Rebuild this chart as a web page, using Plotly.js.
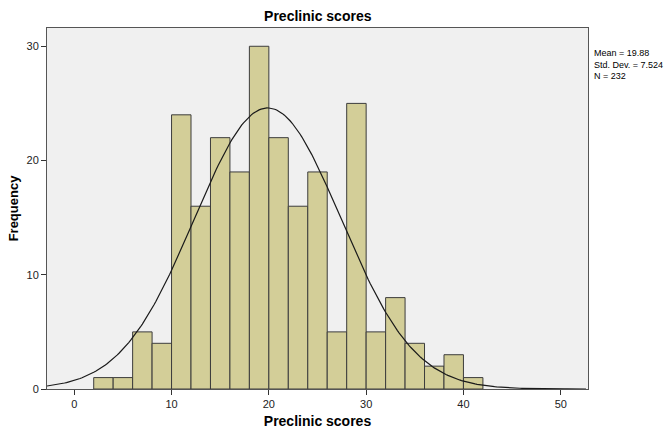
<!DOCTYPE html>
<html>
<head>
<meta charset="utf-8">
<script src="https://cdn.plot.ly/plotly-3.0.1.min.js"></script>
<style>html,body{margin:0;padding:0;background:#fff;}</style>
</head>
<body>
<div id="chart" style="width:669px;height:431px;"></div>
<script>
const binCenters = [3,5,7,9,11,13,15,17,19,21,23,25,27,29,31,33,35,37,39,41];
const frequencies = [1,1,5,4,24,16,22,19,30,22,16,19,5,25,5,8,4,2,3,1];
const binWidth = 2;
const statMean = 19.88;
const statSD = 7.524;
const statN = 232;
const xTicks = [0,10,20,30,40,50];
const yTicks = [0,10,20,30];

// fitted normal curve defined by the reported statistics
const curveX = [];
const curveY = [];
for (let x = -2.8; x <= 52.8; x += 0.2) {
  curveX.push(x);
  const z = (x - statMean) / statSD;
  curveY.push(statN * binWidth * Math.exp(-0.5 * z * z) / (statSD * Math.sqrt(2 * Math.PI)));
}

const traces = [
  {
    type: 'bar', x: binCenters, y: frequencies, width: binWidth,
    marker: {color: '#d3ce98', line: {color: '#3c3c3c', width: 1}},
    hoverinfo: 'x+y'
  },
  {
    type: 'scatter', mode: 'lines', x: curveX, y: curveY,
    line: {color: '#1a1a1a', width: 1.2}, hoverinfo: 'skip'
  }
];

const layout = {
  width: 669, height: 431,
  margin: {l: 47, r: 81, t: 28, b: 42},
  paper_bgcolor: '#ffffff',
  plot_bgcolor: '#f0f0f0',
  showlegend: false,
  bargap: 0,
  font: {family: 'Liberation Sans, Arial, sans-serif', size: 11, color: '#000'},
  title: {text: '<b>Preclinic scores</b>', x: 0.475, xanchor: 'center', y: 0.975, yanchor: 'top',
          font: {size: 14, color: '#000'}},
  xaxis: {
    range: [-2.8, 52.8], tickvals: xTicks, ticks: 'outside', ticklen: 5, tickcolor: '#333',
    showgrid: false, zeroline: false, showline: true, mirror: true, linecolor: '#555', linewidth: 1,
    tickfont: {size: 11, color: '#222'},
    title: {text: '<b>Preclinic scores</b>', font: {size: 14, color: '#000'}, standoff: 6}
  },
  yaxis: {
    range: [0, 31.6], tickvals: yTicks, ticks: 'outside', ticklen: 5, tickcolor: '#333',
    showgrid: false, zeroline: false, showline: true, mirror: true, linecolor: '#555', linewidth: 1,
    tickfont: {size: 11, color: '#222'},
    title: {text: '<b>Frequency</b>', font: {size: 13, color: '#000'}, standoff: 4}
  },
  annotations: [{
    xref: 'paper', yref: 'paper', x: 1.008, y: 0.95, xanchor: 'left', yanchor: 'top',
    align: 'left', showarrow: false,
    text: 'Mean = ' + statMean + '<br>Std. Dev. = ' + statSD + '<br>N = ' + statN,
    font: {size: 9, color: '#000'}
  }]
};

Plotly.newPlot('chart', traces, layout, {displayModeBar: false, staticPlot: true});
</script>
</body>
</html>
